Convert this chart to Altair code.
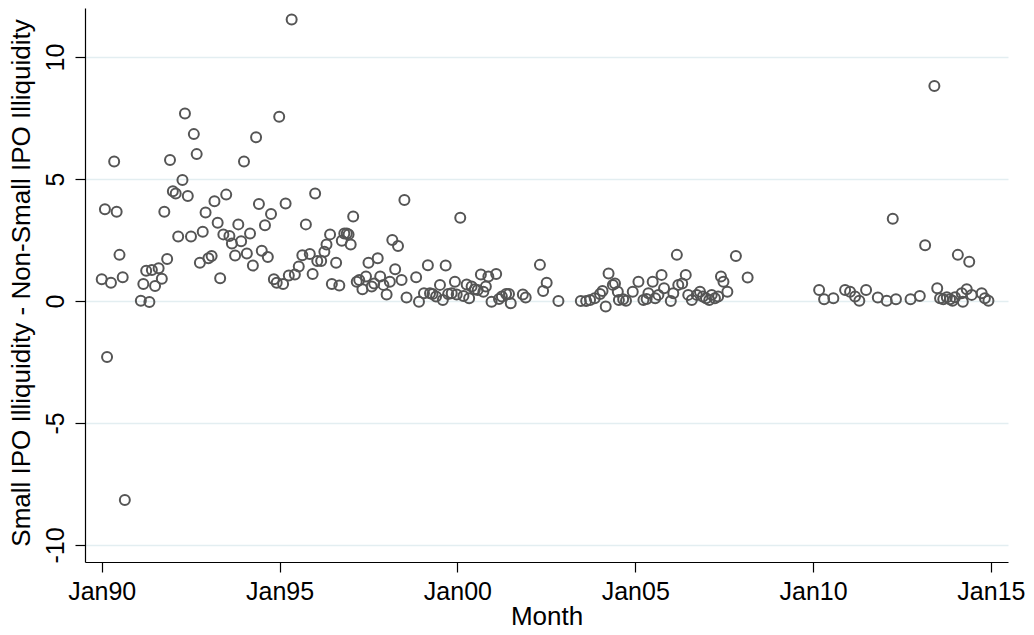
import altair as alt
import pandas as pd

# Month (decimal year) and difference in illiquidity
months_a = [1990.0, 1990.09, 1990.15, 1990.26, 1990.35, 1990.42, 1990.5, 1990.59, 1990.65, 1991.1,
            1991.17, 1991.25, 1991.34, 1991.41, 1991.5, 1991.6, 1991.69, 1991.76, 1991.84, 1991.92,
            1992.0, 1992.08, 1992.15, 1992.27, 1992.34, 1992.42, 1992.51, 1992.59, 1992.67, 1992.76,
            1992.84, 1992.92, 1993.0, 1993.09, 1993.17, 1993.26, 1993.33, 1993.42, 1993.5, 1993.59,
            1993.66, 1993.75, 1993.84, 1993.92, 1994.0, 1994.08, 1994.17, 1994.25, 1994.34, 1994.42,
            1994.5, 1994.59, 1994.67, 1994.76, 1994.84, 1994.92, 1994.99, 1995.1, 1995.17, 1995.26,
            1995.34, 1995.43, 1995.54, 1995.64, 1995.74, 1995.85, 1995.93, 1996.0, 1996.06, 1996.17,
            1996.26, 1996.32, 1996.42, 1996.47, 1996.59, 1996.68, 1996.75, 1996.82, 1996.89, 1996.94,
            1997.0, 1997.07]
values_a = [0.89, 3.76, -2.3, 0.75, 5.72, 3.66, 1.89, 0.97, -8.16, 0.01,
            0.70, 1.24, -0.04, 1.27, 0.61, 1.34, 0.91, 3.66, 1.72, 5.78,
            4.5, 4.41, 2.64, 4.96, 7.69, 4.30, 2.64, 6.84, 6.02, 1.57,
            2.84, 3.63, 1.75, 1.84, 4.09, 3.21, 0.93, 2.73, 4.36, 2.66,
            2.36, 1.86, 3.14, 2.45, 5.72, 1.95, 2.77, 1.45, 6.71, 3.98,
            2.06, 3.10, 1.80, 3.57, 0.89, 0.75, 7.55, 0.70, 4.0, 1.04,
            11.54, 1.09, 1.41, 1.87, 3.14, 1.93, 1.11, 4.41, 1.64, 1.64,
            2.02, 2.32, 2.73, 0.70, 1.57, 0.63, 2.47, 2.77, 2.77, 2.73,
            2.32, 3.46]

months_b = [1997.17, 1997.24, 1997.33, 1997.43, 1997.5, 1997.59, 1997.66, 1997.76, 1997.83, 1997.92,
            1998.01, 1998.1, 1998.17, 1998.25, 1998.33, 1998.43, 1998.51, 1998.57, 1998.84, 1998.92,
            1999.06, 1999.17, 1999.23, 1999.3, 1999.4, 1999.51, 1999.59, 1999.67, 1999.74, 1999.84,
            1999.93, 1999.98, 2000.08, 2000.17, 2000.26, 2000.33, 2000.4, 2000.49, 2000.57, 2000.66,
            2000.73, 2000.8, 2000.87, 2000.96, 2001.09, 2001.17, 2001.25, 2001.37, 2001.45, 2001.5,
            2001.84, 2001.92, 2002.32, 2002.41, 2002.51, 2002.84, 2003.47, 2003.62, 2003.73, 2003.86]
values_b = [0.79, 0.86, 0.48, 1.0, 1.57, 0.59, 0.72, 1.75, 1.0, 0.66,
            0.27, 0.79, 2.5, 1.30, 2.25, 0.86, 4.14, 0.14, 0.97, -0.03,
            0.32, 1.46, 0.32, 0.29, 0.18, 0.66, 0.04, 1.45, 0.29, 0.32,
            0.79, 0.27, 3.41, 0.20, 0.68, 0.11, 0.59, 0.48, 0.45, 1.09,
            0.38, 0.59, 1.0, -0.03, 1.11, 0.08, 0.18, 0.29, 0.29, -0.09,
            0.27, 0.14, 1.48, 0.41, 0.75, 0.0, 0.0, 0.0, 0.04, 0.11]

months_c = [2004.01, 2004.08, 2004.17, 2004.25, 2004.37, 2004.43, 2004.51, 2004.54, 2004.66, 2004.74,
            2004.93, 2005.09, 2005.23, 2005.32, 2005.37, 2005.49, 2005.56, 2005.65, 2005.74, 2005.81,
            2006.0, 2006.07, 2006.17, 2006.21, 2006.32, 2006.42, 2006.49, 2006.59, 2006.73, 2006.82,
            2006.9, 2006.99, 2007.08, 2007.15, 2007.24, 2007.33, 2007.41, 2007.48, 2007.59, 2007.83,
            2008.16]
values_c = [0.29, 0.41, -0.23, 1.13, 0.66, 0.72, 0.38, 0.04, 0.07, 0.01,
            0.38, 0.79, 0.04, 0.08, 0.32, 0.79, 0.11, 0.25, 1.07, 0.52,
            0.0, 0.32, 1.89, 0.66, 0.72, 1.07, 0.25, 0.04, 0.25, 0.38,
            0.18, 0.11, 0.04, 0.25, 0.11, 0.18, 1.0, 0.79, 0.38, 1.84,
            0.96]

months_d = [2010.17, 2010.31, 2010.57, 2010.9, 2011.04, 2011.18, 2011.3, 2011.49, 2011.82, 2012.07,
            2012.24, 2012.33, 2012.74, 2013.0, 2013.15, 2013.41, 2013.49, 2013.57, 2013.66, 2013.76,
            2013.85, 2013.92, 2013.99, 2014.07, 2014.18, 2014.21, 2014.32, 2014.39, 2014.46, 2014.74,
            2014.83, 2014.93]
values_d = [0.45, 0.07, 0.11, 0.45, 0.38, 0.18, 0.01, 0.45, 0.14, 0.01,
            3.37, 0.07, 0.07, 0.2, 2.28, 8.81, 0.52, 0.11, 0.07, 0.15,
            0.07, 0.01, 0.15, 1.89, 0.32, -0.03, 0.48, 1.61, 0.25, 0.32,
            0.11, 0.01]

x_ticks = [1990, 1995, 2000, 2005, 2010, 2015]
y_ticks = [-10, -5, 0, 5, 10]

df = pd.DataFrame({
    "month": months_a + months_b + months_c + months_d,
    "diff": values_a + values_b + values_c + values_d,
})

FONT = "Liberation Sans"
W, H = 923, 554

chart = alt.Chart(df).mark_point(
    shape="circle", filled=False, size=100, strokeWidth=2, color="#555555", opacity=1, clip=True
).encode(
    x=alt.X("month:Q",
            scale=alt.Scale(domain=[1989.53, 2015.48], nice=False, zero=False),
            axis=alt.Axis(values=x_ticks, title="Month",
                          labelExpr="'Jan' + slice(toString(datum.value), 2)",
                          grid=False, tickSize=10, labelPadding=27, labelBaseline="alphabetic",
                          labelFlush=False, labelOverlap=False,
                          titleX=W / 2, titleY=62.5, titleBaseline="alphabetic", titleAlign="center")),
    y=alt.Y("diff:Q",
            scale=alt.Scale(domain=[-10.70, 12.01], nice=False, zero=False),
            axis=alt.Axis(values=y_ticks, title="Small IPO Illiquidity - Non-Small IPO Illiquidity",
                          labelExpr="toString(datum.value)",
                          grid=True, gridColor="#e3eef1", gridWidth=1.5,
                          tickSize=10, labelAngle=270, labelAlign="center", labelBaseline="alphabetic",
                          labelPadding=11.7, labelFlush=False, labelOverlap=False,
                          titleAngle=270, titleX=-55.5, titleY=274.5,
                          titleAlign="center", titleBaseline="alphabetic")),
).properties(
    width=W, height=H,
    autosize=alt.AutoSizeParams(type="none"),
    padding={"left": 77, "top": 0, "right": 18, "bottom": 65},
    background="white",
).configure_view(
    stroke=None
).configure_axis(
    domainColor="black", domainWidth=1.2, tickColor="black", tickWidth=1.2,
    labelFont=FONT, labelFontSize=25, labelColor="black",
    titleFont=FONT, titleFontSize=26, titleFontWeight="normal", titleColor="black",
)

chart.save("out.html", embed_options={"renderer": "svg", "actions": False})
